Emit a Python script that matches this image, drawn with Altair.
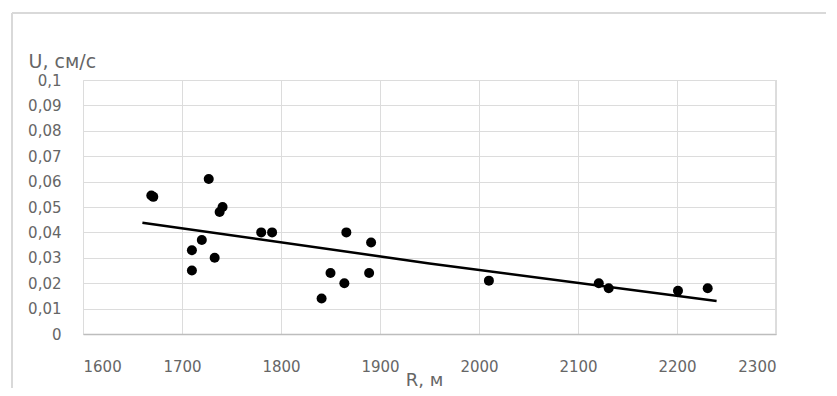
import altair as alt
import pandas as pd

# Scatter data
r_m = [1669, 1671, 1710, 1710, 1720, 1727, 1733, 1738, 1741, 1780, 1791,
       1841, 1850, 1864, 1866, 1889, 1891, 2010, 2121, 2131, 2201, 2231]
u_cms = [0.0545, 0.054, 0.033, 0.025, 0.037, 0.061, 0.030, 0.048, 0.050, 0.040, 0.040,
         0.014, 0.024, 0.020, 0.040, 0.024, 0.036, 0.021, 0.020, 0.018, 0.017, 0.018]

# Trend line
trend_r = [1660, 1950, 2240]
trend_u = [0.0438, 0.0278, 0.0130]

x_ticks = [1600, 1700, 1800, 1900, 2000, 2100, 2200, 2300]
y_ticks = [0, 0.01, 0.02, 0.03, 0.04, 0.05, 0.06, 0.07, 0.08, 0.09, 0.1]

pts = pd.DataFrame({"R": r_m, "U": u_cms})
trend = pd.DataFrame({"R": trend_r, "U": trend_u})

FONT = "DejaVu Sans"
TXT = "#666666"

xscale = alt.Scale(domain=[1600, 2300], nice=False, zero=False)
yscale = alt.Scale(domain=[0, 0.1], nice=False)

xaxis = alt.Axis(values=x_ticks, format="d", title="R, м", grid=True, gridColor="#dcdcdc",
                 domainColor="#bdbdbd", domainWidth=1.5, ticks=False, labelOverlap=False,
                 labelPadding=25, labelFont=FONT, labelFontSize=15, labelColor=TXT,
                 titleFont=FONT, titleFontSize=18, titleFontWeight="normal", titleColor=TXT,
                 titleX=341, titleY=51, titleAlign="center", titleBaseline="alphabetic")
yaxis = alt.Axis(values=y_ticks, title="U, см/с", grid=True, gridColor="#dcdcdc",
                 domain=False, ticks=False, labelPadding=22, labelOverlap=False,
                 labelExpr="replace(format(datum.value, '~g'), '.', ',')",
                 labelFont=FONT, labelFontSize=15, labelColor=TXT,
                 titleFont=FONT, titleFontSize=19, titleFontWeight="normal", titleColor=TXT,
                 titleAngle=0, titleX=-55, titleY=-13, titleAlign="left",
                 titleBaseline="alphabetic")

points = alt.Chart(pts).mark_circle(color="black", opacity=1, size=100).encode(
    x=alt.X("R:Q", scale=xscale, axis=xaxis),
    y=alt.Y("U:Q", scale=yscale, axis=yaxis),
)

line = alt.Chart(trend).mark_line(color="black", strokeWidth=2.5).encode(
    x=alt.X("R:Q", scale=xscale, axis=xaxis),
    y=alt.Y("U:Q", scale=yscale, axis=yaxis),
)

frame_left = alt.Chart(pts).mark_rule(color="#d9d9d9", strokeWidth=1.5).encode(
    x=alt.value(-71), y=alt.value(-67), y2=alt.value(330)
)
frame_top = alt.Chart(pts).mark_rule(color="#d9d9d9", strokeWidth=1.5).encode(
    x=alt.value(-71), x2=alt.value(760), y=alt.value(-67)
)
right_edge = alt.Chart(pts).mark_rule(color="#dcdcdc", strokeWidth=1).encode(
    x=alt.value(693), y=alt.value(0), y2=alt.value(254)
)

chart = alt.layer(frame_left, frame_top, right_edge, points, line).properties(
    width=693, height=254,
    autosize=alt.AutoSizeParams(type="none"),
    padding={"left": 75, "top": 72, "right": 50, "bottom": 54},
).configure_view(stroke=None).configure(background="white")

chart.save("out.html", embed_options={"renderer": "svg", "actions": False})
